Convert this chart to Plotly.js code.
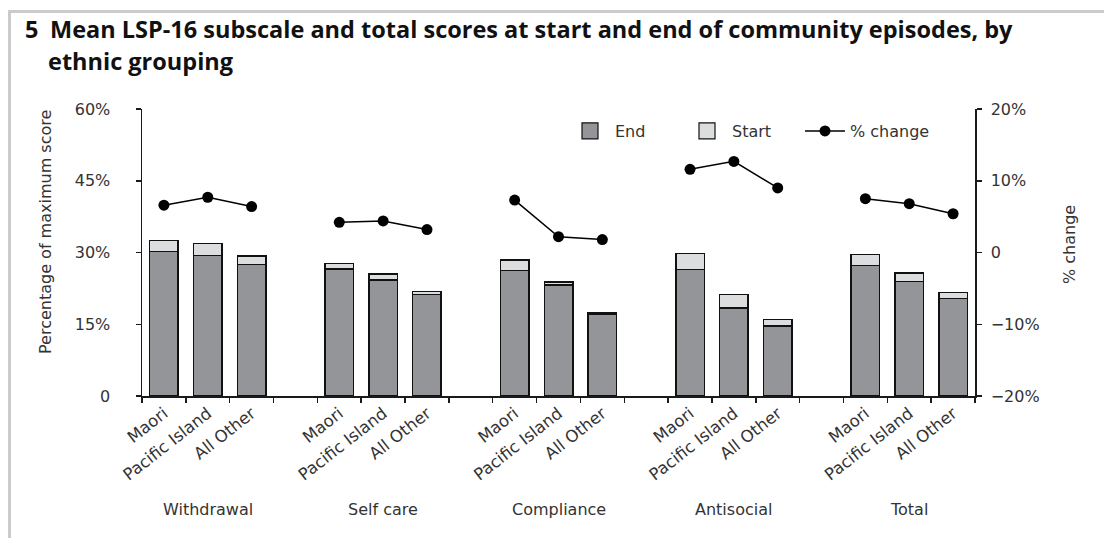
<!DOCTYPE html>
<html>
<head>
<meta charset="utf-8">
<script src="https://cdn.plot.ly/plotly-3.0.1.min.js"></script>
<style>
  html, body { margin: 0; padding: 0; background: #fff; }
  #wrap { position: relative; width: 1104px; height: 538px; overflow: hidden; }
  #chart { width: 1104px; height: 538px; }
  #frame { position: absolute; left: 8px; top: 10px; right: 0; bottom: 0;
           border-left: 3px solid #cbcbcb; border-top: 3px solid #cbcbcb; pointer-events: none; }
</style>
</head>
<body>
<div id="wrap">
  <div id="chart"></div>
  <div id="frame"></div>
</div>
<script>
// ---- data ----
const groups = ['Withdrawal', 'Self care', 'Compliance', 'Antisocial', 'Total'];
const ethnic = ['Maori', 'Pacific Island', 'All Other'];
// mean score at end of episode (% of maximum), per group, per ethnic grouping
const endScore = [
  [30.2, 29.4, 27.5],
  [26.6, 24.3, 21.2],
  [26.2, 23.2, 17.0],
  [26.4, 18.4, 14.6],
  [27.3, 23.9, 20.4]
];
// mean score at start of episode (% of maximum)
const startScore = [
  [32.5, 31.9, 29.3],
  [27.7, 25.5, 21.9],
  [28.4, 23.8, 17.4],
  [29.8, 21.2, 16.0],
  [29.6, 25.7, 21.6]
];
// % change between start and end
const pctChange = [
  [6.6, 7.7, 6.4],
  [4.2, 4.4, 3.2],
  [7.3, 2.2, 1.8],
  [11.6, 12.7, 9.0],
  [7.5, 6.8, 5.4]
];
const leftTicks = [0, 15, 30, 45, 60];
const leftTickText = ['0', '15%', '30%', '45%', '60%'];
const rightTicks = [-20, -10, 0, 10, 20];
const rightTickText = ['\u221220%', '\u221210%', '0', '10%', '20%'];
const titleLine1 = 'Mean LSP-16 subscale and total scores at start and end of community episodes, by';
const titleLine2 = 'ethnic grouping';

// ---- build positions: 3 bars per group, one empty slot between groups ----
const slot = ethnic.length + 1;
const nSlots = groups.length * slot - 1;
const xs = [], endY = [], startY = [], tickText = [];
const lineX = [], lineY = [];
groups.forEach((g, gi) => {
  ethnic.forEach((e, ei) => {
    const x = gi * slot + ei;
    xs.push(x);
    endY.push(endScore[gi][ei]);
    startY.push(+(startScore[gi][ei] - endScore[gi][ei]).toFixed(2));
    tickText.push(e);
    lineX.push(x);
    lineY.push(pctChange[gi][ei]);
  });
  if (gi < groups.length - 1) { lineX.push(gi * slot + ethnic.length); lineY.push(null); }
});
const boundaries = [];
for (let i = 0; i <= nSlots; i++) boundaries.push(i - 0.5);

// ---- layout geometry ----
const W = 1104, H = 538;
const M = { l: 142, r: 129, t: 109, b: 142 };
const pw = W - M.l - M.r, ph = H - M.t - M.b;
const px = v => (v - M.l) / pw;
const py = v => (H - M.b - v) / ph;

const FONT = '"DejaVu Sans", Verdana, sans-serif';
const TFONT = '"Open Sans", sans-serif';
const TXT = '#333333';
const AX = '#1a1a1a';
const END_C = '#939598', START_C = '#dcdddf';

const traces = [
  {
    type: 'bar', name: 'End', x: xs, y: endY, legendgroup: 'end', showlegend: false,
    marker: { color: END_C, line: { color: '#111', width: 1.5 } },
    hoverinfo: 'skip'
  },
  {
    type: 'bar', name: 'Start', x: xs, y: startY, legendgroup: 'start', showlegend: false,
    marker: { color: START_C, line: { color: '#111', width: 1.5 } },
    hoverinfo: 'skip'
  },
  // legend swatches for the two bar series (square markers so the swatch matches the reference size)
  {
    type: 'scatter', mode: 'markers', name: 'End', legendgroup: 'end', x: [null], y: [null],
    marker: { symbol: 'square', size: 16, color: END_C, line: { color: '#111', width: 1.2 } }
  },
  {
    type: 'scatter', mode: 'markers', name: 'Start', legendgroup: 'start', x: [null], y: [null],
    marker: { symbol: 'square', size: 16, color: START_C, line: { color: '#111', width: 1.2 } }
  },
  {
    type: 'scatter', mode: 'lines+markers', name: '% change', legend: 'legend2',
    x: lineX, y: lineY, yaxis: 'y2', connectgaps: false,
    line: { color: '#000', width: 1.5 },
    marker: { color: '#000', size: 11 },
    hoverinfo: 'skip'
  }
];

const annotations = [];
groups.forEach((g, gi) => {
  annotations.push({
    text: g, xref: 'x', yref: 'paper', x: gi * slot + 1, y: py(509),
    xanchor: 'center', yanchor: 'middle', showarrow: false,
    font: { family: FONT, size: 16, color: TXT }
  });
});
annotations.push({
  text: 'Percentage of maximum score', xref: 'paper', yref: 'paper',
  x: px(45), y: py(232), textangle: -90, showarrow: false,
  xanchor: 'center', yanchor: 'middle',
  font: { family: FONT, size: 16, color: TXT }
});
annotations.push({
  text: '% change', xref: 'paper', yref: 'paper',
  x: px(1069), y: py(245), textangle: -90, showarrow: false,
  xanchor: 'center', yanchor: 'middle',
  font: { family: FONT, size: 16, color: TXT }
});
annotations.push({
  text: '<b>5</b>', xref: 'paper', yref: 'paper', x: px(23), y: py(29),
  xanchor: 'left', yanchor: 'middle', showarrow: false,
  font: { family: TFONT, size: 23.5, color: '#111' }
});
annotations.push({
  text: '<b>' + titleLine1 + '</b>', xref: 'paper', yref: 'paper', x: px(48), y: py(29),
  xanchor: 'left', yanchor: 'middle', showarrow: false,
  font: { family: TFONT, size: 23.5, color: '#111' }
});
annotations.push({
  text: '<b>' + titleLine2 + '</b>', xref: 'paper', yref: 'paper', x: px(46), y: py(61),
  xanchor: 'left', yanchor: 'middle', showarrow: false,
  font: { family: TFONT, size: 23.5, color: '#111' }
});

const legendCommon = {
  orientation: 'h', yanchor: 'middle', xanchor: 'left',
  font: { family: FONT, size: 16, color: TXT },
  itemwidth: 40, bgcolor: 'rgba(0,0,0,0)', traceorder: 'normal'
};

const layout = {
  width: W, height: H,
  margin: M,
  paper_bgcolor: 'rgba(0,0,0,0)', plot_bgcolor: 'rgba(0,0,0,0)',
  barmode: 'stack', bargap: 0.35,
  font: { family: FONT, size: 16, color: TXT },
  showlegend: true,
  legend: Object.assign({}, legendCommon, { x: px(565), y: py(131), entrywidth: 62 }),
  legend2: Object.assign({}, legendCommon, { x: px(800), y: py(131) }),
  xaxis: {
    range: [-0.5, nSlots - 0.5], zeroline: false, showgrid: false,
    showline: true, linecolor: AX, linewidth: 1.5,
    tickmode: 'array', tickvals: xs, ticktext: tickText, ticks: '',
    tickangle: -38, tickfont: { family: FONT, size: 16.5, color: TXT },
    minor: { tickmode: 'array', tickvals: boundaries, ticks: 'outside', ticklen: 5, tickwidth: 1.5, tickcolor: AX, showgrid: false },
    fixedrange: true
  },
  yaxis: {
    range: [0, 60], tickmode: 'array', tickvals: leftTicks, ticktext: leftTickText,
    ticks: 'outside', ticklen: 5, tickwidth: 1.5, tickcolor: AX,
    showline: true, linecolor: AX, linewidth: 1.5, showgrid: false, zeroline: false,
    tickfont: { family: FONT, size: 16, color: TXT }, ticklabelstandoff: 22,
    fixedrange: true
  },
  yaxis2: {
    overlaying: 'y', side: 'right', range: [-20, 20],
    tickmode: 'array', tickvals: rightTicks, ticktext: rightTickText,
    ticks: 'outside', ticklen: 5, tickwidth: 1.5, tickcolor: AX,
    showline: true, linecolor: AX, linewidth: 1.5, showgrid: false, zeroline: false,
    tickfont: { family: FONT, size: 16, color: TXT }, ticklabelstandoff: 6,
    fixedrange: true
  },
  annotations: annotations
};

Plotly.newPlot('chart', traces, layout, { staticPlot: true, displayModeBar: false });
</script>
</body>
</html>
